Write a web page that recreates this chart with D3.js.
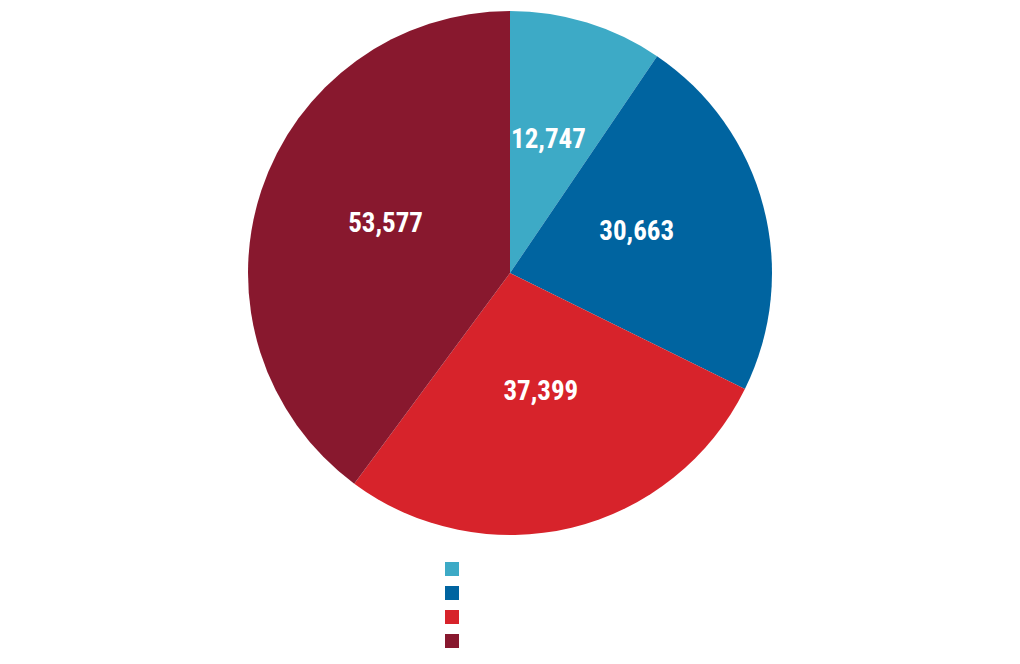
<!DOCTYPE html>
<html>
<head>
<meta charset="utf-8">
<script src="https://cdn.jsdelivr.net/npm/d3@7"></script>
<style>
  html, body { margin: 0; padding: 0; background: #fff; }
  svg { display: block; }
</style>
</head>
<body>
<svg id="chart" width="1020" height="664"></svg>
<script>
const categories = ["A", "B", "C", "D"];
const values = [12747, 30663, 37399, 53577];
const legendLabels = ["", "", "", ""];
const colors = ["#3DAAC6", "#0064A0", "#D7232B", "#88182E"];

const svg = d3.select("#chart");
const cx = 510, cy = 273, R = 262;

const color = d3.scaleOrdinal().domain(categories).range(colors);
const data = categories.map((c, i) => ({ cat: c, value: values[i] }));

const pie = d3.pie().value(d => d.value).sort(null);
const arc = d3.arc().innerRadius(0).outerRadius(R);
const arcs = pie(data);

const g = svg.append("g").attr("transform", `translate(${cx},${cy})`);
g.selectAll("path").data(arcs).join("path")
  .attr("d", arc)
  .attr("fill", d => color(d.data.cat));

const fmt = d3.format(",");
g.selectAll("text").data(arcs).join("text")
  .attr("transform", d => { const c = arc.centroid(d); return `translate(${c[0]},${c[1] - 9})`; })
  .attr("text-anchor", "middle")
  .attr("dominant-baseline", "central")
  .attr("fill", "#fff")
  .style("font-family", "'Roboto Condensed', 'Liberation Sans Narrow', Roboto, sans-serif")
  .style("font-weight", "700")
  .style("font-size", "27px")
  .text(d => fmt(d.data.value));

const legend = svg.append("g").attr("transform", "translate(445,562)");
const items = legend.selectAll("g").data(categories).join("g")
  .attr("transform", (d, i) => `translate(0,${i * 24})`);
items.append("rect").attr("width", 14).attr("height", 14).attr("fill", d => color(d));
items.append("text").attr("x", 20).attr("y", 7).attr("dominant-baseline", "central")
  .style("font-family", "Roboto, sans-serif").style("font-size", "13px").attr("fill", "#333")
  .text((d, i) => legendLabels[i]);
</script>
</body>
</html>
